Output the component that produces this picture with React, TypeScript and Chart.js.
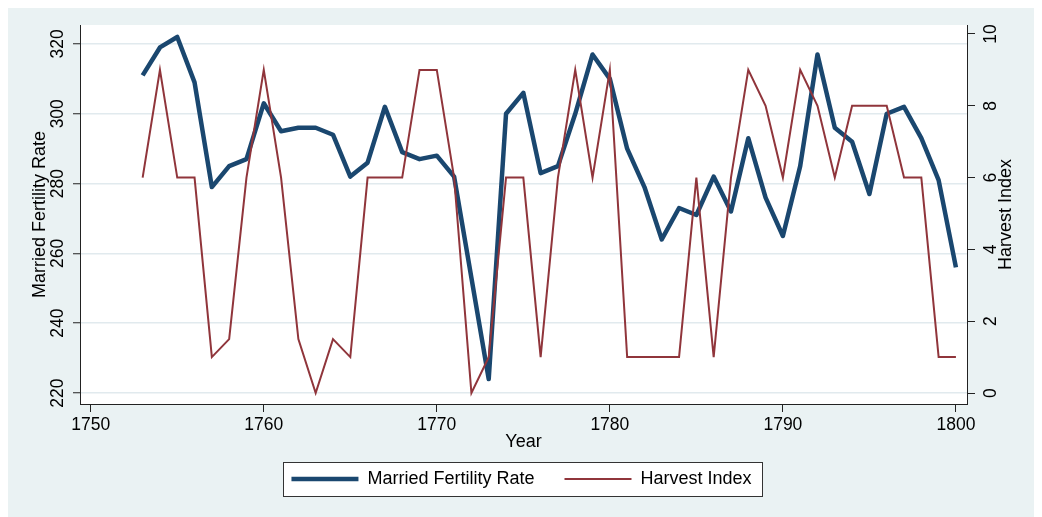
import React, { useEffect, useRef } from "react";
import { Chart, registerables } from "chart.js";

Chart.register(...registerables);

const years = [
  1753, 1754, 1755, 1756, 1757, 1758, 1759, 1760, 1761, 1762, 1763, 1764,
  1765, 1766, 1767, 1768, 1769, 1770, 1771, 1772, 1773, 1774, 1775, 1776,
  1777, 1778, 1779, 1780, 1781, 1782, 1783, 1784, 1785, 1786, 1787, 1788,
  1789, 1790, 1791, 1792, 1793, 1794, 1795, 1796, 1797, 1798, 1799, 1800,
];

const fertility = [
  311, 319, 322, 309, 279, 285, 287, 303, 295, 296, 296, 294,
  282, 286, 302, 289, 287, 288, 282, 253, 224, 300, 306, 283,
  285, 300, 317, 310, 290, 279, 264, 273, 271, 282, 272, 293,
  276, 265, 285, 317, 296, 292, 277, 300, 302, 293, 281, 256,
];

const harvest = [
  6, 9, 6, 6, 1, 1.5, 6, 9, 6, 1.5, 0, 1.5,
  1, 6, 6, 6, 9, 9, 6, 0, 1, 6, 6, 1,
  6, 9, 6, 9, 1, 1, 1, 1, 6, 1, 6, 9,
  8, 6, 9, 8, 6, 8, 8, 8, 6, 6, 1, 1,
];

const xTicks = [1750, 1760, 1770, 1780, 1790, 1800];
const leftTicks = [220, 240, 260, 280, 300, 320];
const rightTicks = [0, 2, 4, 6, 8, 10];

const seriesLabels = ["Married Fertility Rate", "Harvest Index"];
const axisTitles = { x: "Year", left: "Married Fertility Rate", right: "Harvest Index" };

const FONT = '"Liberation Sans", Arial, Helvetica, sans-serif';
const BG = "#eaf2f3";
const GRID = "#e1eaee";
const BLUE = "#1a476f";
const RED = "#90353b";
const AXIS = "#222222";
const TEXT = "#000000";

const W = 1027;
const H = 509;

const decorPlugin = {
  id: "decor",
  beforeDraw(chart: any) {
    const { ctx, chartArea: a, width, height } = chart;
    ctx.save();
    ctx.fillStyle = BG;
    ctx.fillRect(0, 0, width, height);
    ctx.fillStyle = "#ffffff";
    ctx.fillRect(a.left, a.top, a.right - a.left, a.bottom - a.top);
    const hb = chart.legend && chart.legend.legendHitBoxes;
    if (hb && hb.length) {
      const first = hb[0];
      const last = hb[hb.length - 1];
      const l = Math.round(first.left - 8) + 0.5;
      const r = Math.round(last.left + last.width + 10) + 0.5;
      const cy = first.top + first.height / 2;
      const t = Math.round(cy - 17) + 0.5;
      const b = Math.round(cy + 17) + 0.5;
      ctx.fillStyle = "#ffffff";
      ctx.fillRect(l, t, r - l, b - t);
      ctx.strokeStyle = "#333333";
      ctx.lineWidth = 1;
      ctx.strokeRect(l, t, r - l, b - t);
    }
    ctx.restore();
  },
  afterDraw(chart: any) {
    const { ctx } = chart;
    const s = chart.scales.y1;
    ctx.save();
    ctx.translate(s.left + 39, (s.top + s.bottom) / 2);
    ctx.rotate(-Math.PI / 2);
    ctx.textAlign = "center";
    ctx.textBaseline = "middle";
    ctx.font = `18px ${FONT}`;
    ctx.fillStyle = TEXT;
    ctx.fillText(axisTitles.right, 0, 0);
    ctx.restore();
  },
};

export default function App() {
  const ref = useRef<HTMLCanvasElement | null>(null);

  useEffect(() => {
    if (!ref.current) return;
    const tickFont = { family: FONT, size: 17.5 };
    const titleFont = { family: FONT, size: 18 };
    const chart = new Chart(ref.current, {
      type: "line",
      data: {
        datasets: [
          {
            label: seriesLabels[0],
            data: years.map((x, i) => ({ x, y: fertility[i] })),
            yAxisID: "y",
            borderColor: BLUE,
            backgroundColor: BLUE,
            borderWidth: 4.5,
            pointRadius: 0,
            borderJoinStyle: "round",
            tension: 0,
            order: 1,
          },
          {
            label: seriesLabels[1],
            data: years.map((x, i) => ({ x, y: harvest[i] })),
            yAxisID: "y1",
            borderColor: RED,
            backgroundColor: RED,
            borderWidth: 2,
            pointRadius: 0,
            tension: 0,
            order: 0,
          },
        ],
      },
      options: {
        responsive: false,
        animation: false,
        events: [],
        layout: { padding: { left: 0, right: 0, top: 16, bottom: 19 } },
        plugins: {
          tooltip: { enabled: false },
          legend: {
            position: "bottom",
            maxHeight: 58,
            labels: {
              usePointStyle: true,
              pointStyle: "line",
              pointStyleWidth: 67,
              boxHeight: 18,
              padding: 30,
              color: TEXT,
              font: titleFont,
              sort: (a: any, b: any) => a.datasetIndex - b.datasetIndex,
            },
          },
        },
        scales: {
          x: {
            type: "linear",
            position: "bottom",
            min: 1749.38,
            max: 1800.64,
            afterBuildTicks: (s: any) => {
              s.ticks = xTicks.map((v) => ({ value: v }));
            },
            afterFit: (s: any) => {
              s.height = 36;
            },
            ticks: {
              font: tickFont,
              color: TEXT,
              padding: 3,
              maxRotation: 0,
              autoSkip: false,
              callback: (v: any) => String(v),
            },
            grid: {
              display: true,
              drawOnChartArea: false,
              drawTicks: true,
              tickLength: 8,
              tickColor: AXIS,
              tickWidth: 1,
            },
            border: { display: true, color: AXIS, width: 1 },
            title: {
              display: true,
              text: axisTitles.x,
              font: titleFont,
              color: TEXT,
              padding: { top: 0, bottom: -13.3 },
            },
          },
          y: {
            type: "linear",
            position: "left",
            min: 216.86,
            max: 325.43,
            afterBuildTicks: (s: any) => {
              s.ticks = leftTicks.map((v) => ({ value: v }));
            },
            afterFit: (s: any) => {
              s.width = 72;
            },
            ticks: {
              font: tickFont,
              color: TEXT,
              padding: 0,
              minRotation: 90,
              maxRotation: 90,
              crossAlign: "center",
              callback: (v: any) => String(v),
            },
            grid: {
              color: GRID,
              lineWidth: 1.5,
              drawTicks: true,
              tickLength: 7,
              tickColor: AXIS,
              tickWidth: 1,
            },
            border: { display: true, color: AXIS, width: 1 },
            title: {
              display: true,
              text: axisTitles.left,
              font: titleFont,
              color: TEXT,
              padding: { top: 21, bottom: 0 },
            },
          },
          y1: {
            type: "linear",
            position: "right",
            min: -0.306,
            max: 10.25,
            afterBuildTicks: (s: any) => {
              s.ticks = rightTicks.map((v) => ({ value: v }));
            },
            afterFit: (s: any) => {
              s.width = 68;
            },
            ticks: {
              font: tickFont,
              color: TEXT,
              padding: 6.5,
              minRotation: 90,
              maxRotation: 90,
              crossAlign: "center",
              callback: (v: any) => String(v),
            },
            grid: {
              display: true,
              drawOnChartArea: false,
              drawTicks: true,
              tickLength: 8,
              tickColor: AXIS,
              tickWidth: 1,
            },
            border: { display: true, color: AXIS, width: 1 },
          },
        },
      } as any,
      plugins: [decorPlugin],
    });
    return () => chart.destroy();
  }, []);

  return <canvas ref={ref} width={W} height={H} style={{ display: "block" }} />;
}
